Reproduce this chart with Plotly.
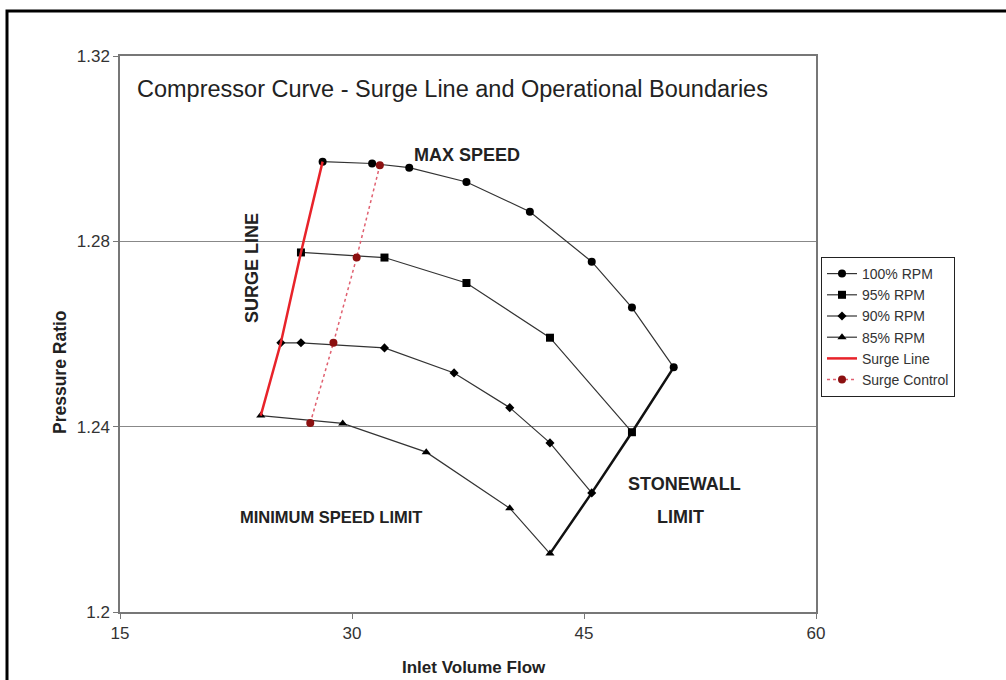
import plotly.graph_objects as go

# ---- data ----
rpm100_x = [28.1, 31.3, 33.7, 37.4, 41.5, 45.5, 48.1, 50.8]
rpm100_y = [1.2972, 1.2968, 1.2959, 1.2928, 1.2864, 1.2756, 1.2657, 1.2528]
rpm95_x = [26.7, 32.1, 37.4, 42.8, 48.1]
rpm95_y = [1.2776, 1.2765, 1.2710, 1.2592, 1.2388]
rpm90_x = [25.4, 26.7, 32.1, 36.6, 40.2, 42.8, 45.5]
rpm90_y = [1.2581, 1.2581, 1.2570, 1.2516, 1.2441, 1.2365, 1.2257]
rpm85_x = [24.1, 29.4, 34.8, 40.2, 42.8]
rpm85_y = [1.2424, 1.2407, 1.2345, 1.2224, 1.2126]
surge_x = [24.1, 25.4, 26.7, 28.1]
surge_y = [1.2424, 1.2581, 1.2776, 1.2972]
control_x = [27.3, 28.8, 30.3, 31.8]
control_y = [1.2408, 1.2581, 1.2765, 1.2964]
stonewall_x = [50.8, 48.1, 45.5, 42.8]
stonewall_y = [1.2528, 1.2388, 1.2257, 1.2126]

x_ticks = [15, 30, 45, 60]
y_ticks = [1.2, 1.24, 1.28, 1.32]
y_tick_text = ["1.2", "1.24", "1.28", "1.32"]

FONT = "Liberation Sans, Arial, sans-serif"
LINE = "#333333"

fig = go.Figure()

fig.add_trace(go.Scatter(x=stonewall_x, y=stonewall_y, mode="lines",
                         line=dict(color="#111111", width=2.5), showlegend=False,
                         hoverinfo="skip"))

def curve(x, y, name, symbol, size):
    fig.add_trace(go.Scatter(x=x, y=y, mode="lines+markers", name=name,
                             line=dict(color=LINE, width=1.2),
                             marker=dict(symbol=symbol, size=size, color="#000000")))

curve(rpm100_x, rpm100_y, "100% RPM", "circle", 8)
curve(rpm95_x, rpm95_y, "95% RPM", "square", 8)
curve(rpm90_x, rpm90_y, "90% RPM", "diamond", 7)
curve(rpm85_x, rpm85_y, "85% RPM", "triangle-up", 8)

fig.add_trace(go.Scatter(x=surge_x, y=surge_y, mode="lines", name="Surge Line",
                         line=dict(color="#e8232a", width=2.5)))
fig.add_trace(go.Scatter(x=control_x, y=control_y, mode="lines+markers", name="Surge Control",
                         line=dict(color="#e06070", width=1.5, dash="dot"),
                         marker=dict(symbol="circle", size=8, color="#8b1010")))


def px(xp):
    return (xp - 120) / 696


def py(yp):
    return (612 - yp) / 556


def lab(text, x, y, size, angle=0):
    return dict(x=px(x), y=py(y), xref="paper", yref="paper", xanchor="center",
                yanchor="middle", text="<b>" + text + "</b>", showarrow=False,
                textangle=angle, font=dict(family=FONT, size=size, color="#222222"))


annotations = [
    dict(x=px(135), y=py(89), xref="paper", yref="paper", xanchor="left", yanchor="middle",
         text="Compressor Curve - Surge Line and Operational Boundaries", showarrow=False,
         font=dict(family=FONT, size=23.5, color="#222222")),
    lab("MAX SPEED", 467, 155, 18),
    lab("SURGE LINE", 252, 268, 18, -90),
    lab("MINIMUM SPEED LIMIT", 331, 517, 16.5),
    lab("STONEWALL", 684, 484, 18),
    lab("LIMIT", 680, 517, 18),
    lab("Inlet Volume Flow", 474, 667, 17),
    lab("Pressure Ratio", 60, 372, 17.5, -90),
]

fig.update_layout(
    width=1006, height=680,
    margin=dict(l=120, r=190, t=56, b=68),
    paper_bgcolor="white", plot_bgcolor="white",
    font=dict(family=FONT, color="#333333"),
    annotations=annotations,
    shapes=[dict(type="rect", xref="paper", yref="paper",
                 x0=px(7), x1=1.4, y0=-0.3, y1=py(11),
                 line=dict(color="black", width=3), layer="below")],
    legend=dict(x=px(821), y=py(257), xanchor="left", yanchor="top",
                bordercolor="#222222", borderwidth=1, bgcolor="white",
                font=dict(family=FONT, size=14, color="#333333"),
                tracegroupgap=0, itemwidth=30),
)

fig.update_xaxes(range=[15, 60], tickvals=x_ticks, ticks="outside", ticklen=5,
                 tickcolor="#777777", showline=True, linecolor="#777777", linewidth=1.5,
                 mirror=True, showgrid=False, zeroline=False,
                 tickfont=dict(family=FONT, size=17, color="#333333"))
fig.update_yaxes(range=[1.2, 1.32], tickvals=y_ticks, ticktext=y_tick_text, ticks="outside",
                 ticklen=5, tickcolor="#777777", showline=True, linecolor="#777777",
                 linewidth=1.5, mirror=True, showgrid=True, gridcolor="#888888", gridwidth=1,
                 zeroline=False,
                 tickfont=dict(family=FONT, size=17, color="#333333"))

fig.write_html("out.html")
